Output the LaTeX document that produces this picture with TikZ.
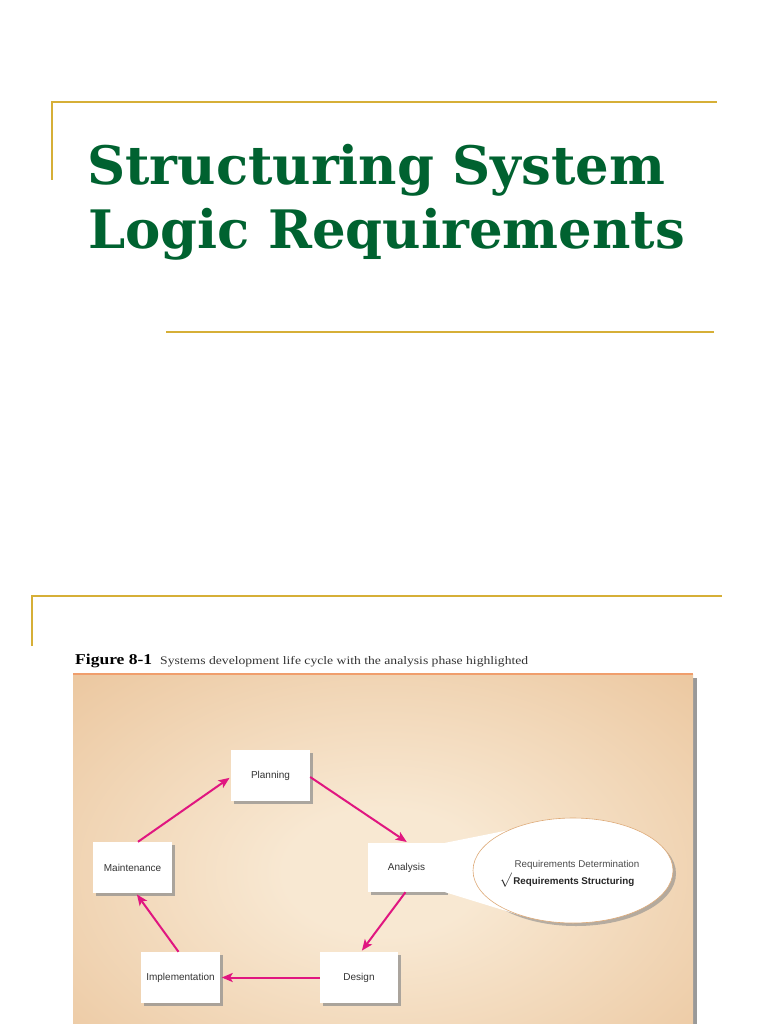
\documentclass[tikz,border=0pt]{standalone}
\usepackage{graphicx}
\usepackage{fontspec}
\setmainfont{Liberation Serif}
\setsansfont{Liberation Sans}
\newfontfamily\titlefont{DejaVu Serif}
\usetikzlibrary{arrows.meta,calc,shapes.geometric,shadows}
\definecolor{gold}{RGB}{214,175,55}
\definecolor{titlegreen}{RGB}{0,98,48}
\definecolor{flowpink}{RGB}{224,22,128}
\definecolor{bgouter}{RGB}{228,180,130}
\definecolor{bginner}{RGB}{248,232,210}
\definecolor{topborder}{RGB}{240,158,108}
\definecolor{ellipseline}{RGB}{222,170,120}
\pgfdeclareradialshading{figbg}{\pgfpoint{0bp}{0bp}}{color(0bp)=(bginner); color(8bp)=(bginner); color(52bp)=(bgouter); color(75bp)=(bgouter)}
\tikzset{
  goldline/.style={draw=gold, line width=1.8pt},
  phase/.style={fill=white, minimum width=79pt, minimum height=51pt, inner sep=0pt,
    font=\sffamily\fontsize{10}{11}\selectfont, text=black!80,
    drop shadow={shadow xshift=3pt, shadow yshift=-3pt, fill=black!45, opacity=0.7}},
  flow/.style={draw=flowpink, line width=2pt, shorten >=1.5pt,
    -{Stealth[length=11pt,width=9pt,inset=2.5pt]}},
  reqtext/.style={inner sep=0pt, font=\sffamily\fontsize{9.8}{11}\selectfont, text=black!70},
}
\begin{document}
\begin{tikzpicture}[x=1pt,y=-1pt]
\useasboundingbox (0,0) rectangle (768,1024);
\fill[white] (0,0) rectangle (768,1024);

% decorative gold rules
\draw[goldline] (52,180) -- (52,102) -- (717,102);
\draw[goldline] (166,332) -- (714,332);
\draw[goldline] (32,646) -- (32,596) -- (722,596);

% title
\node[anchor=base west, inner sep=0pt, text=titlegreen] (title1) at (87,185)
  {\resizebox{578pt}{\height}{\titlefont\bfseries\fontsize{53}{53}\selectfont Structuring System}};
\node[anchor=base west, inner sep=0pt, text=titlegreen] (title2) at (88,248)
  {\resizebox{597pt}{\height}{\titlefont\bfseries\fontsize{53}{53}\selectfont Logic Requirements}};

% caption
\node[anchor=base west, inner sep=0pt] (figlabel) at (75,664)
  {\resizebox{77pt}{\height}{\bfseries\fontsize{15}{15}\selectfont Figure 8-1}};
\node[anchor=base west, inner sep=0pt, text=black!80] (figcaption) at (160,664)
  {\resizebox{368pt}{\height}{\fontsize{11.5}{12}\selectfont Systems development life cycle with the analysis phase highlighted}};

% figure background
\fill[black!40] (693,678) rectangle (697,1024);
\begin{scope}
  \clip (0,0) rectangle (768,1024);
  \shade[shading=figbg] (73,674) rectangle (693,1070);
\end{scope}
\draw[topborder, line width=2pt] (73,674) -- (693,674);

% phases
\node[phase] (plan) at (270.5,775.5) {Planning};
\node[phase, minimum width=77pt, minimum height=49pt] (analysis) at (406.5,867.5) {Analysis};
\node[phase, minimum width=78pt] (design) at (359,977.5) {Design};
\node[phase] (impl) at (180.5,977.5) {Implementation};
\node[phase] (maint) at (132.5,867.5) {Maintenance};

% cycle arrows
\draw[flow] ([xshift=5.5pt]maint.north) -- ([yshift=-1.5pt]plan.west);
\draw[flow] ([yshift=-1.5pt]plan.east) -- ([xshift=1.5pt]analysis.north);
\draw[flow] ([xshift=-1pt]analysis.south) -- ([xshift=2pt]design.north);
\draw[flow] (design.west) -- (impl.east);
\draw[flow] ([xshift=-2pt]impl.north) -- ([xshift=3.5pt]maint.south);

% callout bubble
\node[ellipse, fill=white, minimum width=200pt, minimum height=105pt, inner sep=0pt,
  drop shadow={shadow xshift=3pt, shadow yshift=-3pt, fill=black!45, opacity=0.6}]
  (bubble) at (573,870.5) {};
\fill[white] (analysis.north east) -- (bubble.148) -- (bubble.center) -- (bubble.221) -- (analysis.south east) -- cycle;
\draw[ellipseline, line width=0.6pt] (bubble.center) ellipse [x radius=100pt, y radius=52.5pt];

\node[reqtext] (reqdet) at (577,865) {Requirements Determination};
\node[reqtext, text=black!85] (reqstr) at (567,880.5) {\bfseries{\Large$\surd$}\,Requirements Structuring};
\end{tikzpicture}
\end{document}
